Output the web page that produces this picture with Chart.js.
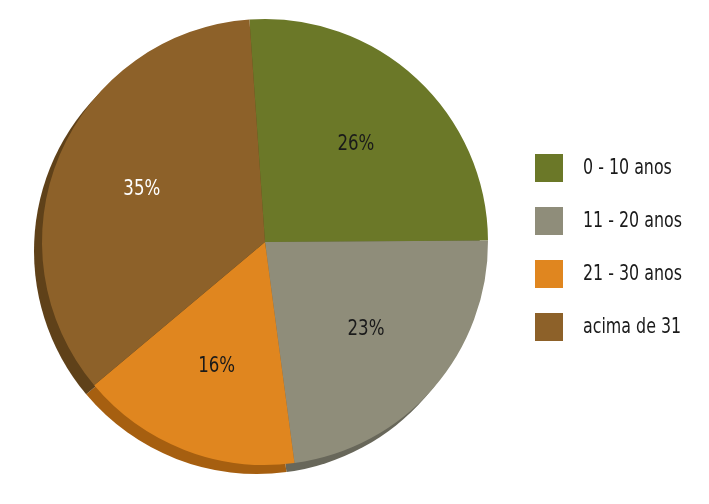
<!DOCTYPE html>
<html>
<head>
<meta charset="utf-8">
<script src="https://cdn.jsdelivr.net/npm/chart.js@4"></script>
<style>
  html, body { margin: 0; padding: 0; background: #fff; }
  #wrap { width: 709px; height: 504px; }
</style>
</head>
<body>
<div id="wrap"><canvas id="myChart1" width="709" height="504"></canvas></div>
<script>
var categories = ['0 - 10 anos', '11 - 20 anos', '21 - 30 anos', 'acima de 31'];
var values = [26, 23, 16, 35];
var sliceColors = ['#6b7828', '#8f8d7a', '#e0861f', '#8d6129'];
var shadowColors = ['#4d571c', '#68675a', '#a65f10', '#5f4119'];
var labelColors = ['#1a1a1a', '#1a1a1a', '#1a1a1a', '#ffffff'];

var FONT = "'Liberation Sans Narrow', 'DejaVu Sans Condensed', 'Roboto', sans-serif";
var SQUEEZE = 0.84; // the original font is a condensed one

// fake 3d: darker copy of each slice, shifted down-left
var shadowPlugin = {
  id: 'shadow',
  beforeDatasetsDraw: function(chart) {
    var ctx = chart.ctx;
    chart.getDatasetMeta(0).data.forEach(function(arc, i) {
      ctx.save();
      ctx.fillStyle = shadowColors[i];
      ctx.beginPath();
      ctx.moveTo(arc.x - 8, arc.y + 9);
      ctx.arc(arc.x - 8, arc.y + 9, arc.outerRadius, arc.startAngle, arc.endAngle);
      ctx.closePath();
      ctx.fill();
      ctx.restore();
    });
  }
};

function narrowText(ctx, text, x, y) {
  ctx.save();
  ctx.translate(x, y);
  ctx.scale(SQUEEZE, 1);
  ctx.fillText(text, 0, 0);
  ctx.restore();
}

var labelPlugin = {
  id: 'pctLabels',
  afterDatasetsDraw: function(chart) {
    var ctx = chart.ctx;
    ctx.save();
    ctx.font = '22px ' + FONT;
    ctx.textAlign = 'center';
    ctx.textBaseline = 'middle';
    chart.getDatasetMeta(0).data.forEach(function(arc, i) {
      var mid = (arc.startAngle + arc.endAngle) / 2;
      var r = arc.outerRadius * 0.6;
      ctx.fillStyle = labelColors[i];
      narrowText(ctx, values[i] + '%', arc.x + Math.cos(mid) * r, arc.y + Math.sin(mid) * r);
    });
    ctx.restore();
  }
};

var legendPlugin = {
  id: 'sideLegend',
  afterDraw: function(chart) {
    var ctx = chart.ctx;
    ctx.save();
    ctx.font = '21px ' + FONT;
    ctx.textBaseline = 'middle';
    categories.forEach(function(label, i) {
      var cy = 168 + i * 53;
      ctx.fillStyle = sliceColors[i];
      ctx.fillRect(535, cy - 14, 28, 28);
      ctx.fillStyle = '#1a1a1a';
      narrowText(ctx, label, 583, cy + 1);
    });
    ctx.restore();
  }
};

var ctx = document.getElementById('myChart1').getContext('2d');
var chart = new Chart(ctx, {
  type: 'pie',
  data: {
    labels: categories,
    datasets: [{
      data: values,
      backgroundColor: sliceColors,
      borderWidth: 0
    }]
  },
  options: {
    responsive: false,
    animation: false,
    rotation: -4,
    layout: { padding: { top: 19, bottom: 39, left: 42, right: 221 } },
    plugins: {
      legend: { display: false },
      tooltip: { enabled: false }
    }
  },
  plugins: [shadowPlugin, labelPlugin, legendPlugin]
});
</script>
</body>
</html>
